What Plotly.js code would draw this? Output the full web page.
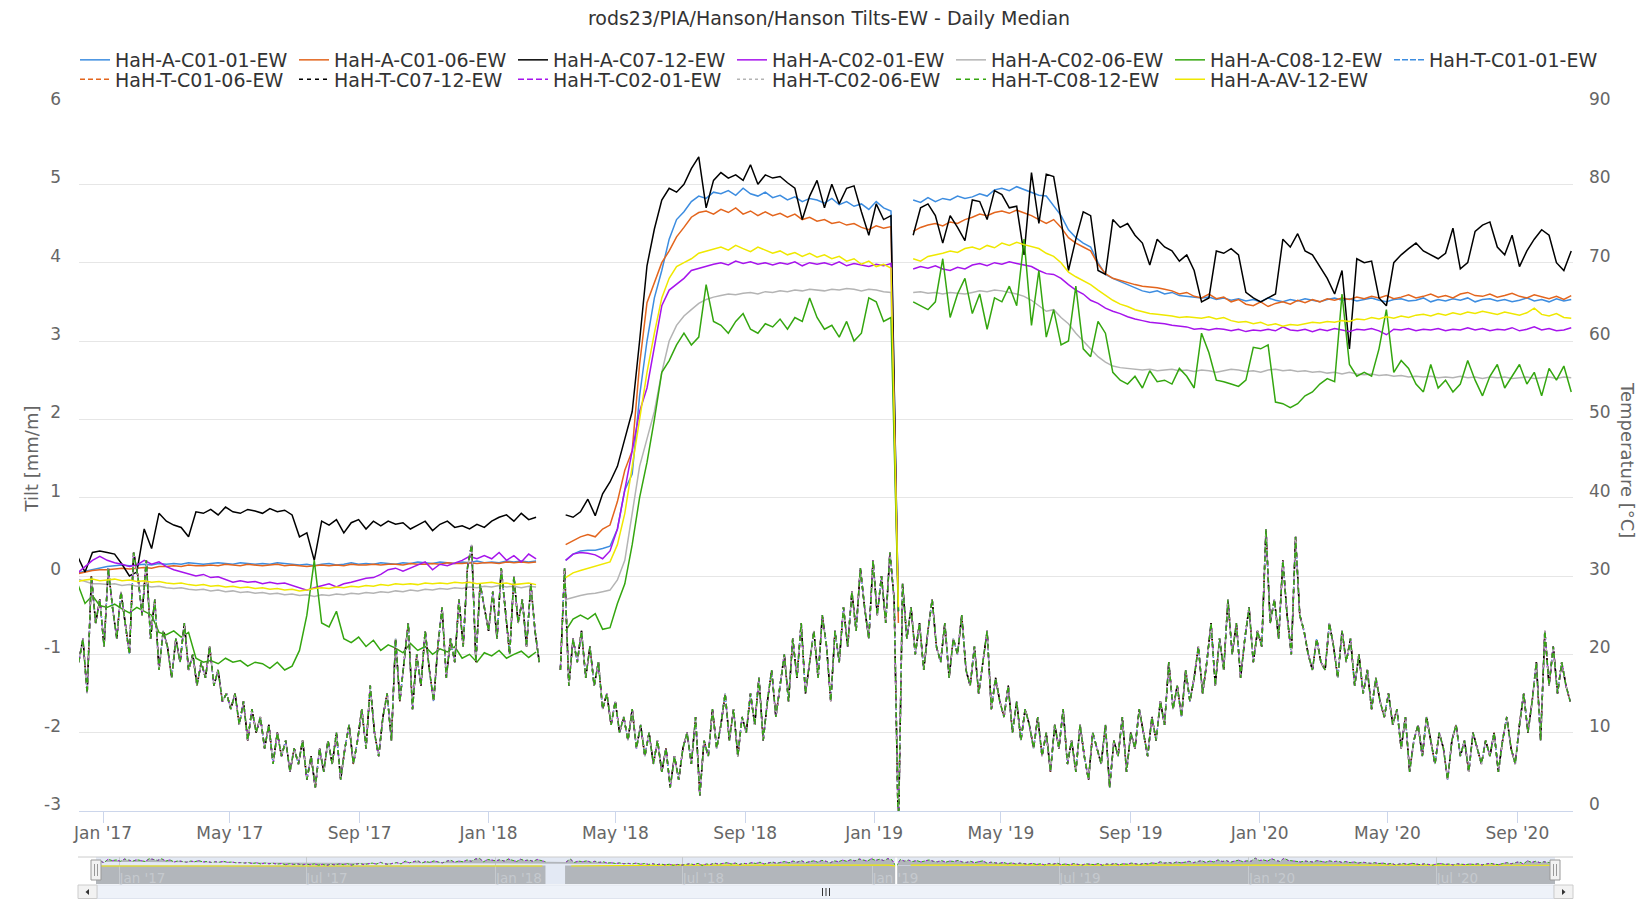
<!DOCTYPE html>
<html><head><meta charset="utf-8">
<script src="https://cdn.plot.ly/plotly-3.0.1.min.js"></script>
<style>html,body{margin:0;padding:0;background:#fff;}#chart{width:1640px;height:899px;}</style>
</head><body><div id="chart"></div>
<script>
// ---------- DATA ----------
const tiltStart = '2016-12-08', tiltStepDays = 7;   // weekly samples of daily medians
const tempStart = '2016-12-09', tempStepDays = 4;   // every 4th day

const seriesNames = ['HaH-A-C01-01-EW','HaH-A-C01-06-EW','HaH-A-C07-12-EW','HaH-A-C02-01-EW','HaH-A-C02-06-EW','HaH-A-C08-12-EW',
  'HaH-T-C01-01-EW','HaH-T-C01-06-EW','HaH-T-C07-12-EW','HaH-T-C02-01-EW','HaH-T-C02-06-EW','HaH-T-C08-12-EW','HaH-A-AV-12-EW'];

const tiltTickValues = [-3,-2,-1,0,1,2,3,4,5,6];
const tiltTickLabels = ['-3','-2','-1','0','1','2','3','4','5','6'];

const tiltC01_01 = [0.04,0.06,0.08,0.1,0.12,0.13,0.14,0.13,0.14,0.15,
0.14,0.16,0.15,0.16,0.15,0.17,0.16,0.15,0.16,0.17,
0.16,0.15,0.17,0.16,0.15,0.16,0.15,0.17,0.16,0.15,
0.14,0.15,0.13,0.15,0.16,0.14,0.15,0.17,0.15,0.16,
0.15,0.17,0.16,0.15,0.17,0.16,0.18,0.17,0.16,0.18,
0.17,0.16,0.18,0.17,0.19,0.17,0.18,0.17,0.19,0.18,
0.19,0.18,0.19,null,null,null,0.2,0.28,0.32,0.33,
0.33,0.35,0.38,0.6,1.1,1.3,2.3,3.0,3.55,3.9,
4.3,4.55,4.65,4.78,4.85,4.82,4.9,4.88,4.92,4.86,
4.95,4.88,4.85,4.9,4.83,4.86,4.8,4.84,4.78,4.82,
4.8,4.76,4.82,4.74,4.78,4.72,4.75,4.68,4.78,4.7,
4.66,-0.45,null,4.8,4.77,4.83,4.78,4.82,4.8,4.85,
4.82,4.84,4.88,4.85,4.93,4.95,4.92,4.97,4.93,4.9,
4.86,4.85,4.72,4.6,4.42,4.32,4.25,4.2,4.0,3.85,
3.8,3.76,3.73,3.68,3.64,3.62,3.64,3.6,3.62,3.58,
3.57,3.56,3.55,3.56,3.53,3.55,3.52,3.54,3.51,3.53,
3.5,3.55,3.52,3.5,3.53,3.51,3.54,3.52,3.5,3.53,
3.55,3.52,3.54,3.51,3.53,3.55,3.52,3.5,3.53,3.54,
3.51,3.52,3.55,3.5,3.53,3.51,3.54,3.52,3.55,3.5,
3.53,3.54,3.51,3.53,3.5,3.52,3.55,3.51,3.53,3.5,
3.54,3.51,3.53];

const tiltC01_06 = [0.03,0.05,0.07,0.08,0.08,0.09,0.1,0.09,0.1,0.11,
0.1,0.12,0.12,0.13,0.12,0.14,0.13,0.13,0.14,0.13,
0.15,0.14,0.13,0.15,0.14,0.13,0.14,0.15,0.13,0.14,
0.13,0.12,0.13,0.14,0.13,0.14,0.13,0.15,0.14,0.14,
0.15,0.14,0.15,0.15,0.14,0.16,0.15,0.15,0.16,0.15,
0.17,0.16,0.16,0.17,0.16,0.17,0.17,0.16,0.18,0.17,
0.18,0.17,0.18,null,null,null,0.4,0.45,0.5,0.53,
0.5,0.6,0.65,0.95,1.35,1.6,2.7,3.49,3.75,4.0,
4.15,4.33,4.45,4.58,4.64,4.66,4.62,4.68,4.64,4.7,
4.62,4.66,4.6,4.65,4.6,4.63,4.58,4.62,4.55,4.58,
4.53,4.55,4.5,4.52,4.48,4.5,4.45,4.42,4.47,4.44,
4.46,-0.6,null,4.4,4.45,4.48,4.5,4.47,4.52,4.5,
4.55,4.58,4.62,4.6,4.64,4.66,4.63,4.67,4.64,4.6,
4.55,4.5,4.55,4.45,4.32,4.25,4.2,4.15,3.98,3.86,
3.8,3.77,3.75,3.72,3.7,3.69,3.68,3.66,3.64,3.6,
3.62,3.57,3.55,3.6,3.54,3.56,3.5,3.53,3.47,3.45,
3.5,3.44,3.48,3.5,3.47,3.52,3.49,3.53,3.5,3.54,
3.52,3.55,3.53,3.56,3.54,3.57,3.55,3.58,3.54,3.56,
3.59,3.55,3.57,3.6,3.56,3.58,3.55,3.6,3.62,3.58,
3.57,3.6,3.56,3.58,3.61,3.57,3.55,3.59,3.56,3.54,
3.57,3.53,3.58];

const tiltC07_12 = [0.25,0.05,0.3,0.32,0.3,0.28,0.15,0.0,0.05,0.6,
0.35,0.8,0.7,0.65,0.62,0.5,0.82,0.8,0.85,0.78,
0.88,0.82,0.8,0.85,0.83,0.8,0.86,0.82,0.84,0.78,
0.5,0.55,0.2,0.7,0.65,0.72,0.55,0.68,0.72,0.6,
0.7,0.64,0.7,0.66,0.68,0.6,0.65,0.7,0.58,0.66,
0.7,0.62,0.64,0.6,0.66,0.62,0.7,0.75,0.78,0.7,
0.8,0.72,0.75,null,null,null,0.78,0.75,0.82,0.98,
0.77,1.05,1.2,1.4,1.75,2.1,3.0,3.96,4.43,4.8,
4.95,4.9,5.0,5.2,5.35,4.7,5.05,5.15,5.08,5.12,
5.05,5.25,5.0,5.12,5.08,5.1,5.02,4.95,4.55,4.85,
5.05,4.7,5.0,4.75,4.95,4.98,4.65,4.35,4.75,4.55,
4.6,-0.45,null,4.35,4.7,4.75,4.6,4.25,4.6,4.45,
4.28,4.8,4.78,4.55,4.92,4.87,4.7,4.72,4.1,5.15,
4.5,5.13,5.1,4.55,3.9,4.3,4.65,4.6,3.9,3.85,
4.55,4.45,4.5,4.35,4.25,3.97,4.3,4.2,4.15,4.02,
4.1,3.9,3.5,3.55,4.15,4.12,4.18,4.1,3.62,3.55,
3.5,3.55,3.6,4.3,4.2,4.37,4.15,4.1,3.95,3.8,
3.6,3.9,2.9,4.05,4.0,4.02,3.55,3.45,4.0,4.1,
4.18,4.25,4.15,4.1,4.05,4.12,4.44,3.92,4.0,4.4,
4.48,4.52,4.2,4.1,4.35,3.95,4.15,4.3,4.42,4.35,
4.0,3.9,4.15];

const tiltC02_01 = [0.04,0.12,0.2,0.25,0.2,0.17,0.15,0.12,0.14,0.2,
0.15,0.18,0.12,0.08,0.05,0.02,0.0,0.02,-0.02,-0.01,
-0.05,-0.08,-0.06,-0.08,-0.07,-0.1,-0.08,-0.1,-0.09,-0.12,
-0.16,-0.18,-0.15,-0.12,-0.1,-0.14,-0.1,-0.08,-0.05,-0.03,
-0.02,0.02,0.08,0.1,0.06,0.1,0.14,0.18,0.08,0.15,
0.13,0.16,0.2,0.25,0.22,0.26,0.22,0.3,0.2,0.26,
0.18,0.28,0.22,null,null,null,0.2,0.28,0.3,0.29,
0.27,0.22,0.32,0.6,1.1,1.6,2.1,2.4,2.95,3.45,
3.65,3.72,3.8,3.9,3.93,3.95,3.98,4.0,3.97,4.02,
3.99,4.01,3.98,4.0,3.97,4.0,3.98,4.01,3.96,4.0,
3.98,4.0,3.97,4.01,3.96,3.99,3.97,3.95,3.98,3.96,
3.99,-0.45,null,3.92,3.95,3.93,3.96,3.92,3.9,3.94,
3.92,3.97,3.99,3.96,4.0,3.98,4.01,3.99,3.97,3.95,
3.9,3.86,3.85,3.8,3.72,3.65,3.6,3.52,3.48,3.42,
3.38,3.35,3.31,3.28,3.26,3.24,3.23,3.22,3.2,3.19,
3.18,3.15,3.16,3.14,3.16,3.15,3.13,3.15,3.12,3.14,
3.13,3.15,3.13,3.18,3.14,3.13,3.15,3.12,3.15,3.13,
3.16,3.14,3.12,3.15,3.14,3.16,3.13,3.08,3.15,3.14,
3.16,3.13,3.15,3.14,3.16,3.13,3.15,3.14,3.17,3.14,
3.16,3.13,3.15,3.14,3.17,3.13,3.15,3.18,3.14,3.16,
3.13,3.14,3.17];

const tiltC02_06 = [-0.04,-0.07,-0.1,-0.1,-0.11,-0.1,-0.12,-0.11,-0.13,-0.12,
-0.14,-0.13,-0.15,-0.16,-0.15,-0.17,-0.18,-0.17,-0.19,-0.18,
-0.2,-0.19,-0.21,-0.2,-0.22,-0.21,-0.23,-0.22,-0.24,-0.23,
-0.25,-0.24,-0.26,-0.24,-0.25,-0.23,-0.24,-0.22,-0.23,-0.21,
-0.22,-0.2,-0.21,-0.19,-0.2,-0.18,-0.19,-0.17,-0.18,-0.16,
-0.17,-0.15,-0.16,-0.14,-0.15,-0.13,-0.14,-0.12,-0.14,-0.13,
-0.15,-0.13,-0.14,null,null,null,-0.3,-0.27,-0.25,-0.23,
-0.22,-0.2,-0.18,-0.05,0.2,0.8,1.4,1.75,2.1,2.6,
3.0,3.2,3.32,3.4,3.48,3.53,3.56,3.58,3.6,3.59,
3.61,3.62,3.6,3.63,3.62,3.64,3.63,3.65,3.64,3.66,
3.65,3.64,3.66,3.65,3.67,3.66,3.64,3.66,3.65,3.63,
3.62,-0.45,null,3.62,3.63,3.61,3.62,3.6,3.62,3.61,
3.6,3.62,3.64,3.63,3.65,3.64,3.62,3.6,3.57,3.52,
3.45,3.38,3.4,3.3,3.22,3.1,3.0,2.9,2.8,2.73,
2.68,2.66,2.65,2.64,2.63,2.64,2.62,2.63,2.64,2.62,
2.63,2.61,2.63,2.62,2.6,2.62,2.64,2.63,2.61,2.62,
2.6,2.63,2.64,2.62,2.63,2.61,2.62,2.6,2.61,2.59,
2.6,2.58,2.6,2.58,2.57,2.58,2.56,2.57,2.55,2.56,
2.54,2.55,2.54,2.55,2.53,2.54,2.53,2.55,2.53,2.54,
2.52,2.54,2.53,2.54,2.52,2.53,2.54,2.52,2.53,2.54,
2.52,2.54,2.53];

const tiltC08_12 = [-0.1,-0.35,-0.25,-0.38,-0.4,-0.36,-0.42,-0.47,-0.4,-0.45,
-0.5,-0.72,-0.75,-0.7,-0.78,-0.72,-1.05,-1.1,-1.08,-1.12,
-1.05,-1.1,-1.08,-1.15,-1.1,-1.12,-1.18,-1.1,-1.2,-1.15,
-0.95,-0.5,0.2,-0.6,-0.65,-0.45,-0.8,-0.85,-0.78,-0.9,
-0.82,-0.95,-0.88,-0.92,-0.98,-0.86,-0.95,-0.9,-1.0,-0.93,
-0.97,-0.9,-1.05,-1.0,-1.1,-0.98,-1.02,-0.95,-1.05,-1.0,
-0.96,-1.04,-0.97,null,null,null,-0.7,-0.55,-0.5,-0.55,
-0.48,-0.68,-0.66,-0.35,-0.1,0.4,1.0,1.45,2.0,2.6,
2.75,2.95,3.1,2.95,3.05,3.72,3.25,3.2,3.1,3.25,
3.35,3.15,3.1,3.22,3.18,3.28,3.15,3.3,3.25,3.55,
3.3,3.15,3.2,3.05,3.25,3.0,3.1,3.55,3.5,3.25,
3.3,-0.45,null,3.5,3.45,3.4,3.5,4.05,3.3,3.6,
3.8,3.35,3.6,3.15,3.55,3.5,3.7,3.45,4.3,3.2,
3.9,3.05,3.4,2.95,3.0,3.7,2.9,2.8,3.25,3.1,
2.6,2.5,2.45,2.55,2.4,2.62,2.48,2.5,2.45,2.65,
2.55,2.4,3.1,2.85,2.5,2.48,2.45,2.42,2.5,2.92,
2.9,2.95,2.22,2.2,2.15,2.2,2.3,2.35,2.45,2.52,
2.48,3.6,2.7,2.55,2.6,2.55,2.9,3.4,2.6,2.75,
2.65,2.45,2.35,2.7,2.4,2.5,2.35,2.45,2.75,2.5,
2.3,2.55,2.7,2.4,2.55,2.7,2.45,2.6,2.3,2.65,
2.5,2.68,2.35];

const tiltAV_12 = [-0.07,-0.05,-0.04,-0.06,-0.05,-0.04,-0.06,-0.05,-0.07,-0.06,
-0.08,-0.07,-0.09,-0.1,-0.09,-0.11,-0.12,-0.11,-0.13,-0.12,
-0.14,-0.13,-0.15,-0.14,-0.16,-0.15,-0.17,-0.16,-0.18,-0.17,
-0.19,-0.18,-0.16,-0.15,-0.16,-0.14,-0.15,-0.13,-0.14,-0.12,
-0.13,-0.11,-0.12,-0.1,-0.11,-0.1,-0.11,-0.09,-0.1,-0.09,
-0.1,-0.08,-0.09,-0.08,-0.1,-0.09,-0.08,-0.1,-0.09,-0.11,
-0.1,-0.09,-0.11,null,null,null,-0.02,0.04,0.07,0.1,
0.12,0.15,0.18,0.4,0.8,1.4,2.0,2.6,3.1,3.55,
3.8,3.95,4.0,4.05,4.12,4.15,4.18,4.2,4.16,4.22,
4.18,4.14,4.2,4.16,4.12,4.15,4.1,4.13,4.08,4.12,
4.07,4.1,4.05,4.08,4.02,4.05,3.98,4.02,3.95,3.98,
3.93,-0.4,null,4.05,4.02,4.08,4.1,4.12,4.15,4.13,
4.18,4.2,4.17,4.22,4.19,4.25,4.22,4.26,4.23,4.2,
4.18,4.12,4.08,4.0,3.88,3.82,3.77,3.72,3.65,3.58,
3.52,3.47,3.44,3.4,3.37,3.35,3.34,3.33,3.32,3.3,
3.31,3.3,3.29,3.31,3.28,3.3,3.26,3.24,3.25,3.22,
3.24,3.2,3.22,3.19,3.21,3.2,3.22,3.24,3.23,3.25,
3.24,3.26,3.25,3.28,3.27,3.3,3.28,3.31,3.29,3.32,
3.3,3.33,3.34,3.32,3.35,3.33,3.36,3.34,3.37,3.35,
3.38,3.36,3.34,3.37,3.35,3.33,3.36,3.42,3.34,3.32,
3.35,3.3,3.29];

// temperature [°C], all six T-sensors read as one overlapping curve
const temp2016_2017 = [19,22,15,30,24,27,
21,31,26,22,28,24,20,33,
30,25,32,22,27,18,23,
21,17,22,19,24,18,20,16,
19,17,21,16,18,14,15,
13,15,11,14,9,13,10,12,
8,11,6,10,7,9,5,
8,6,9,4,7,3,8,5,
9,6,10,4,8,11,6,9,
13,8,16,10,7,12,15,
9,22,14,19,24,13,20,16,
23,18,14,21,26,17,22,19,
27,21,31,34,19,29,26];
const temp2018 = [23,28,22,31,25,20,30,24,
27,21,29,23,19,null,null,
null,null,18,31,16,22,19,23,
17,21,16,19,13,15,11,
14,10,12,9,13,8,11,7,
10,6,9,5,8,3,7,4,
8,10,6,12,2,9,7,
13,8,11,15,9,13,7,12,
10,15,11,17,9,14,18,12,
16,20,14,22,17,24,15,
19,23,17,25,21,14,23,19,
26,21,28,23,31,26,22,32];
const temp2019 = [25,30,24,33,27,-3,29,
22,26,20,24,18,23,27,
21,19,24,17,22,20,25,18,
16,21,15,19,23,13,17,14,
12,16,10,14,9,13,11,
8,12,7,10,5,11,8,13,
6,9,5,11,7,4,10,8,
6,11,3,9,7,12,5,
10,8,13,10,7,12,9,14,
11,19,13,16,12,18,14,17,
21,15,19,24,16,22,18,
27,20,24,17,22,26,19,23];
const temp2020 = [21,36,24,27,22,32,25,20,
35,25,23,20,18,22,19,
18,24,21,17,23,19,22,16,
20,15,18,13,17,14,12,
15,11,13,8,12,5,9,11,
7,12,9,6,10,8,4,
9,11,7,9,5,10,8,6,
9,7,10,5,9,12,8,6,
11,15,10,14,19,9,23,
16,21,15,19,16,14];
const temperature = [].concat(temp2016_2017, temp2018, temp2019, temp2020);

// ---------- BUILD ----------
function makeDates(start, stepDays, n) {
  const p = start.split('-').map(Number);
  const t0 = Date.UTC(p[0], p[1]-1, p[2]);
  const out = [];
  for (let i = 0; i < n; i++) out.push(new Date(t0 + i*stepDays*86400000).toISOString().slice(0,10));
  return out;
}
const tiltDates = makeDates(tiltStart, tiltStepDays, tiltC01_01.length);
const tempDates = makeDates(tempStart, tempStepDays, temperature.length);

const colors = {blue:'#3d8de0', orange:'#e3651d', black:'#000000', purple:'#a614ec', gray:'#b4b4b4', green:'#34a60f', yellow:'#efe800'};

const M = {l:79, r:67, t:106, b:15};
const W = 1640, H = 899, PW = W - M.l - M.r, PH = H - M.t - M.b;
const PX = px => (px - M.l) / PW;
const PY = py => (M.t + PH - py) / PH;

const tiltSeries = [tiltC01_01, tiltC01_06, tiltC07_12, tiltC02_01, tiltC02_06, tiltC08_12];
const tiltColors = [colors.blue, colors.orange, colors.black, colors.purple, colors.gray, colors.green];
const tempColors = tiltColors;
const tempDash = ['6px,2px','5px,3px','4px,4px','6px,3px','3px,3px','5px,4px'];

const traces = [];
tiltSeries.forEach((arr, i) => traces.push({
  type:'scatter', mode:'lines', x: tiltDates, y: arr, name: seriesNames[i],
  xaxis:'x', yaxis:'y', legend:'legend', line:{color: tiltColors[i], width:1.5}, hoverinfo:'skip'
}));
for (let i = 0; i < 6; i++) traces.push({
  type:'scatter', mode:'lines', x: tempDates, y: temperature, name: seriesNames[6+i],
  xaxis:'x', yaxis:'y2', legend: i === 0 ? 'legend' : 'legend2',
  line:{color: tempColors[i], width:1.5, dash: tempDash[i]}, hoverinfo:'skip'
});
traces.push({type:'scatter', mode:'lines', x: tiltDates, y: tiltAV_12, name: seriesNames[12],
  xaxis:'x', yaxis:'y3', legend:'legend2', line:{color: colors.yellow, width:1.5}, hoverinfo:'skip'});
// navigator
traces.push({type:'scatter', mode:'lines', x: tiltDates, y: tiltAV_12, xaxis:'x2', yaxis:'y4', showlegend:false,
  line:{color: colors.yellow, width:1.2}, hoverinfo:'skip'});
traces.push({type:'scatter', mode:'lines', x: tempDates, y: temperature, xaxis:'x2', yaxis:'y4', showlegend:false,
  fill:'tonexty', fillcolor:'#b2b6bb', line:{color: colors.green, width:1, dash:'3px,2px'}, hoverinfo:'skip'});
traces.push({type:'scatter', mode:'lines', x: tempDates, y: temperature, xaxis:'x2', yaxis:'y4', showlegend:false,
  line:{color: colors.purple, width:1, dash:'2px,4px'}, hoverinfo:'skip'});

const xRange = ['2016-12-09 06:40', '2020-10-23 16:00'];
const tickFont = {family:'DejaVu Sans, sans-serif', size:17, color:'#666666'};
const legendBase = {orientation:'h', xanchor:'left', yanchor:'middle', x: PX(75), entrywidth:174, entrywidthmode:'pixels',
  traceorder:'normal', font:{family:'DejaVu Sans, sans-serif', size:19, color:'#333333'}, bgcolor:'rgba(0,0,0,0)', borderwidth:0};

const shapes = [
  // navigator background + fills
  {type:'rect', xref:'x2 domain', yref:'y4 domain', x0:0, x1:1, y0:0, y1:1, fillcolor:'#e3e9f4', line:{width:0}, layer:'below'},
  {type:'rect', xref:'x2 domain', yref:'y4', x0:0, x1:1, y0:-80, y1:2, fillcolor:'#b2b6bb', line:{width:0}, layer:'below'},
  {type:'rect', xref:'x2', yref:'y4 domain', x0:'2018-02-18', x1:'2018-03-09', y0:0, y1:1, fillcolor:'#e3e9f4', line:{width:0}, layer:'below'},
  {type:'rect', xref:'x2', yref:'y4 domain', x0:'2019-01-23', x1:'2019-01-25', y0:0, y1:1, fillcolor:'#ffffff', line:{width:0}, layer:'above'},
  // navigator outline
  {type:'line', xref:'paper', yref:'paper', x0:PX(78), x1:PX(1573), y0:PY(857), y1:PY(857), line:{color:'#cccccc', width:1}},
  // scrollbar
  {type:'rect', xref:'paper', yref:'paper', x0:PX(97), x1:PX(1554), y0:PY(885), y1:PY(898.5), fillcolor:'#eef2f9', line:{color:'#dfe4ee', width:1}},
  {type:'rect', xref:'paper', yref:'paper', x0:PX(78), x1:PX(97), y0:PY(885), y1:PY(898.5), fillcolor:'#f2f2f2', line:{color:'#cccccc', width:1}},
  {type:'rect', xref:'paper', yref:'paper', x0:PX(1554), x1:PX(1573), y0:PY(885), y1:PY(898.5), fillcolor:'#f2f2f2', line:{color:'#cccccc', width:1}},
  {type:'path', xref:'paper', yref:'paper', path:`M ${PX(85.5)} ${PY(892)} L ${PX(89)} ${PY(889)} L ${PX(89)} ${PY(895)} Z`, fillcolor:'#333333', line:{width:0}},
  {type:'path', xref:'paper', yref:'paper', path:`M ${PX(1565.5)} ${PY(892)} L ${PX(1562)} ${PY(889)} L ${PX(1562)} ${PY(895)} Z`, fillcolor:'#333333', line:{width:0}},
  ...[822.5, 826, 829.5].map(px => ({type:'line', xref:'paper', yref:'paper', x0:PX(px), x1:PX(px), y0:PY(888), y1:PY(896), line:{color:'#333333', width:1}})),
  // navigator handles
  ...[[91,101],[1550,1560]].flatMap(([a,b]) => [
    {type:'rect', xref:'paper', yref:'paper', x0:PX(a), x1:PX(b), y0:PY(860), y1:PY(880), fillcolor:'#f2f2f2', line:{color:'#999999', width:1}, layer:'above'},
    {type:'line', xref:'paper', yref:'paper', x0:PX(a+3.5), x1:PX(a+3.5), y0:PY(864), y1:PY(876), line:{color:'#999999', width:1}, layer:'above'},
    {type:'line', xref:'paper', yref:'paper', x0:PX(a+6.5), x1:PX(a+6.5), y0:PY(864), y1:PY(876), line:{color:'#999999', width:1}, layer:'above'}
  ])
];

const layout = {
  width: W, height: H, margin: {l:M.l, r:M.r, t:M.t, b:M.b, autoexpand:false},
  paper_bgcolor:'#ffffff', plot_bgcolor:'#ffffff',
  font:{family:'DejaVu Sans, sans-serif', color:'#666666'},
  showlegend:true, hovermode:false,
  title:{text:'rods23/PIA/Hanson/Hanson Tilts-EW - Daily Median', x:0.5055, xanchor:'center', y:1-18/H, yanchor:'middle',
    font:{family:'DejaVu Sans, sans-serif', size:19, color:'#333333'}},
  legend: Object.assign({}, legendBase, {y: PY(60)}),
  legend2: Object.assign({}, legendBase, {y: PY(79.5)}),
  xaxis:{type:'date', domain:[0,1], anchor:'y', range:xRange, tickformat:"%b '%y", dtick:'M4', tick0:'2017-01-01',
    ticks:'outside', ticklen:11, tickcolor:'#ccd6eb', tickwidth:1, showline:true, linecolor:'#ccd6eb', linewidth:1,
    showgrid:false, zeroline:false, tickfont:tickFont, ticklabelstandoff:-4, fixedrange:true},
  yaxis:{domain:[PY(811), 1], anchor:'x', range:[-3,6], tickmode:'array', tickvals:tiltTickValues, ticktext:tiltTickLabels,
    gridcolor:'#e6e6e6', gridwidth:1, zeroline:false,
    showline:false, ticks:'', tickfont:tickFont, ticklabelstandoff:17, ticklabelshift:-7,
    title:{text:'Tilt [mm/m]', font:{family:'DejaVu Sans, sans-serif', size:18, color:'#666666'}, standoff:0}, fixedrange:true},
  yaxis2:{overlaying:'y', side:'right', anchor:'x', range:[0,90], dtick:10, tick0:0, showgrid:false, zeroline:false,
    showline:false, ticks:'', tickfont:tickFont, ticklabelstandoff:15, ticklabelshift:-7, fixedrange:true},
  yaxis3:{overlaying:'y', anchor:'x', range:[-3,6], visible:false, fixedrange:true},
  xaxis2:{type:'date', domain:[PX(96), PX(1555)], anchor:'y4', range:xRange, tickformat:"%b '%y", dtick:'M6', tick0:'2017-01-01',
    ticks:'', ticklabelposition:'inside right', ticklabelstandoff:-8, showline:false, showgrid:true, gridcolor:'#c6cace', gridwidth:1, zeroline:false,
    tickfont:{family:'DejaVu Sans, sans-serif', size:13.5, color:'#c5c9ce'}, fixedrange:true},
  yaxis4:{domain:[0, PY(857)], anchor:'x2', range:[-80,40], visible:false, fixedrange:true},
  shapes: shapes,
  annotations:[{text:'Temperature [°C]', xref:'paper', yref:'paper', x:PX(1628), y:PY(460), textangle:90,
    showarrow:false, xanchor:'center', yanchor:'middle', font:{family:'DejaVu Sans, sans-serif', size:18, color:'#666666'}}]
};

Plotly.newPlot('chart', traces, layout, {displayModeBar:false, staticPlot:true});
</script>
</body></html>
